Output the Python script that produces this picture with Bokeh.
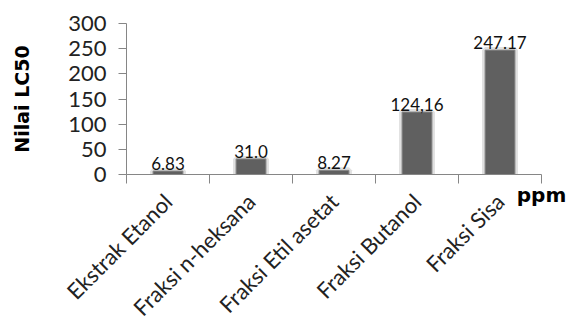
from bokeh.plotting import figure
from bokeh.models import LinearAxis, FixedTicker, ColumnDataSource, Range1d
from bokeh.embed import file_html
from bokeh.resources import INLINE
from bokeh.core.properties import value
import math

categories = ["Ekstrak Etanol", "Fraksi n-heksana", "Fraksi Etil asetat", "Fraksi Butanol", "Fraksi Sisa"]
lc50 = [6.83, 31.0, 8.27, 124.16, 247.17]
value_labels = ["6.83", "31.0", "8.27", "124,16", "247.17"]
y_ticks = [0, 50, 100, 150, 200, 250, 300]

src = ColumnDataSource(dict(cat=categories, val=lc50, lab=value_labels))

p = figure(width=566, height=336, x_range=categories, y_range=Range1d(0, 300),
           output_backend="svg", toolbar_location=None, x_axis_type=None,
           min_border_left=126, min_border_right=25, min_border_top=23, min_border_bottom=162,
           background_fill_color="white", border_fill_color="white")
p.outline_line_color = None
p.xgrid.visible = False
p.ygrid.visible = False

p.vbar(x="cat", top="val", width=0.36, source=src, fill_color="#606060",
       line_color="#d9d9d9", line_width=6, line_alpha=0.8)
p.vbar(x="cat", top="val", width=0.36, source=src, fill_color="#606060",
       line_color="#8a8a8a", line_width=1)

p.text(x="cat", y="val", text="lab", source=src, text_align="center", text_baseline="bottom",
       y_offset=-1, text_font=value("Lato"), text_font_size="17px", text_color="#111111")

ya = p.yaxis[0]
ya.ticker = FixedTicker(ticks=y_ticks)
ya.axis_label = "Nilai LC50"
ya.axis_label_text_font = "DejaVu Sans"
ya.axis_label_text_font_style = "bold"
ya.axis_label_text_font_size = "19px"
ya.axis_label_text_color = "#000000"
ya.axis_label_standoff = 32
ya.major_label_text_font = "Lato"
ya.major_label_text_font_size = "22px"
ya.major_label_text_color = "#222222"
ya.major_label_standoff = 12
ya.major_tick_out = 8
ya.major_tick_in = 0
ya.minor_tick_out = 0
ya.minor_tick_in = 0
ya.axis_line_color = "#868686"
ya.major_tick_line_color = "#868686"

centres = [i + 0.5 for i in range(len(categories))]
edges = [float(i) for i in range(len(categories) + 1)]
xa = LinearAxis(ticker=FixedTicker(ticks=centres, minor_ticks=edges),
                major_label_overrides={c: n for c, n in zip(centres, categories)})
xa.major_label_orientation = math.pi / 4
xa.major_label_text_font = "Lato"
xa.major_label_text_font_size = "22px"
xa.major_label_text_color = "#222222"
xa.major_label_standoff = 14
xa.major_tick_out = 0
xa.major_tick_in = 0
xa.minor_tick_out = 9
xa.minor_tick_in = 0
xa.minor_tick_line_color = "#868686"
xa.axis_line_color = "#868686"
xa.axis_label = "ppm"
xa.axis_label_align = "end"
xa.axis_label_standoff = -150
xa.axis_label_text_font = "DejaVu Sans"
xa.axis_label_text_font_style = "bold"
xa.axis_label_text_font_size = "20px"
xa.axis_label_text_color = "#000000"
p.add_layout(xa, "below")

open("out.html", "w").write(file_html(p, INLINE))
